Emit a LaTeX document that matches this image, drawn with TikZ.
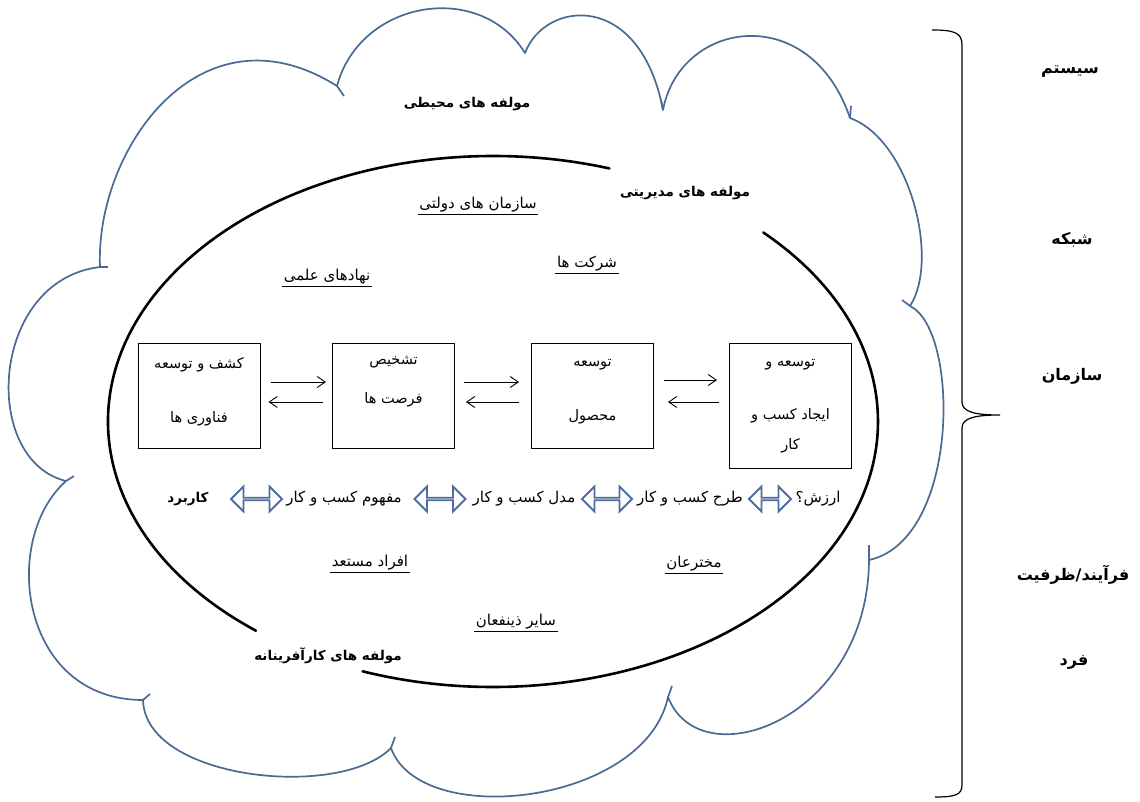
\documentclass[tikz,border=0pt]{standalone}
\usepackage{fontspec}
\newfontfamily\fafont[Script=Arabic]{DejaVu Sans}
\TeXXeTstate=1
\usetikzlibrary{shapes.arrows,arrows.meta,calc}
\definecolor{cloudblue}{HTML}{4A6A96}
\definecolor{dablue}{HTML}{4E6E9E}
\newcommand{\rtltext}[1]{\beginR#1\endR}
\begin{document}
\begin{tikzpicture}[x=1pt,y=-1pt,
  every node/.style={inner sep=0pt},
  cloudline/.style={draw=cloudblue,line width=1.7pt,line join=round},
  ellline/.style={line width=2.6pt,line cap=round},
  stage/.style={draw,line width=1pt,minimum width=122pt,minimum height=#1},
  stage/.default=105pt,
  btxt/.style={font=\fafont\fontsize{14.5}{17}\selectfont},
  rtxt/.style={font=\fafont\fontsize{15}{17}\selectfont},
  boldlab/.style={font=\fafont\bfseries\fontsize{13.5}{16}\selectfont},
  sidelab/.style={font=\fafont\bfseries\fontsize{16}{18}\selectfont},
  ulab/.style={font=\fafont\fontsize{15}{17}\selectfont,inner sep=1.5pt},
  uline/.style={line width=1.2pt},
  arr/.style={-{Straight Barb[length=8pt,width=11pt]},line width=0.9pt},
  dbl/.style={double arrow,draw=dablue,fill=white,line width=1.8pt,minimum height=#1,minimum width=25pt,double arrow head extend=8pt,inner sep=0pt},
  bracket/.style={line width=1.2pt}
]
\fill[white] (0,0) rectangle (1140,802);
\useasboundingbox (0,0) rectangle (1140,802);

% cloud
\draw[cloudline] (337,86) .. controls (360,0) and (480,-20) .. (525,53)
 .. controls (545,0) and (640,-10) .. (663,110)
 .. controls (680,20) and (810,0) .. (850,118)
 .. controls (910,140) and (940,260) .. (910,306)
 .. controls (960,330) and (960,540) .. (869,560)
 .. controls (868,720) and (700,780) .. (668,697)
 .. controls (645,805) and (420,830) .. (391,748)
 .. controls (340,800) and (145,780) .. (143,700)
 .. controls (20,700) and (0,540) .. (66,481)
 .. controls (-20,460) and (-10,280) .. (100,267)
 .. controls (95,150) and (200,0) .. (337,86) -- cycle;
% small tails at the cusps
\draw[cloudline] (337,86) -- (344,96);
\draw[cloudline] (100,267) -- (108,267);
\draw[cloudline] (66,481) -- (74,476);
\draw[cloudline] (143,700) -- (150,694);
\draw[cloudline] (391,748) -- (395,737);
\draw[cloudline] (668,697) -- (672,686);
\draw[cloudline] (869,560) -- (869,545);
\draw[cloudline] (910,306) -- (902,300);
\draw[cloudline] (850,118) -- (851,106);
\draw[cloudline] (663,110) -- (661,100);

% ellipse (two arcs)
\coordinate (ec) at (493,421.5);
\draw[ellline] ($(ec)+(-45.4:385 and 265.5)$) arc[start angle=-45.4,end angle=109.8,x radius=385,y radius=265.5];
\draw[ellline] ($(ec)+(128:385 and 265.5)$) arc[start angle=128,end angle=287.6,x radius=385,y radius=265.5];

% boxes
\node[stage] (b1) at (199,395.5) {};
\node[stage] (b2) at (393.5,395.5) {};
\node[stage] (b3) at (592.5,395.5) {};
\node[stage=125pt] (b4) at (790.5,405.5) {};

\node[btxt] (t1a) at (199,365) {\rtltext{کشف و توسعه}};
\node[btxt] (t1b) at (199,419) {\rtltext{فناوری ها}};
\node[btxt] (t2a) at (393.5,362) {\rtltext{تشخیص}};
\node[btxt] (t2b) at (393.5,400) {\rtltext{فرصت ها}};
\node[btxt] (t3a) at (592.5,365) {\rtltext{توسعه}};
\node[btxt] (t3b) at (592.5,417) {\rtltext{محصول}};
\node[btxt] (t4a) at (790.5,365) {\rtltext{توسعه و}};
\node[btxt] (t4b) at (790.5,416) {\rtltext{ایجاد کسب و}};
\node[btxt] (t4c) at (790.5,446) {\rtltext{کار}};

% arrows between boxes
\draw[arr,shorten <=10pt,shorten >=6pt] ($(b1.east)+(0,-13.5)$) -- ($(b2.west)+(0,-13.5)$);
\draw[arr,shorten <=9pt,shorten >=8pt] ($(b2.west)+(0,6.5)$) -- ($(b1.east)+(0,6.5)$);
\draw[arr,shorten <=9pt,shorten >=12pt] ($(b2.east)+(0,-13.5)$) -- ($(b3.west)+(0,-13.5)$);
\draw[arr,shorten <=12pt,shorten >=11pt] ($(b3.west)+(0,6.5)$) -- ($(b2.east)+(0,6.5)$);
\draw[arr,shorten <=10pt,shorten >=12pt] ($(b3.east)+(0,-15.5)$) -- ($(b4.west)+(0,-25.5)$);
\draw[arr,shorten <=10pt,shorten >=14pt] ($(b4.west)+(0,-3.5)$) -- ($(b3.east)+(0,6.5)$);

% row of concepts
\node[boldlab] (use) at (188,499) {\rtltext{کاربرد}};
\node[dbl=51pt] (da1) at (256.5,499) {};
\node[rtxt] (concept) at (344,499) {\rtltext{مفهوم کسب و کار}};
\node[dbl=51pt] (da2) at (440,499) {};
\node[rtxt] (model) at (524,499) {\rtltext{مدل کسب و کار}};
\node[dbl=50pt] (da3) at (607,499) {};
\node[rtxt] (plan) at (690,499) {\rtltext{طرح کسب و کار}};
\node[dbl=42pt] (da4) at (770,499) {};
\node[rtxt] (value) at (818,499) {\rtltext{ارزش؟}};

% labels
\node[boldlab] (env) at (467,104) {\rtltext{مولفه های محیطی}};
\node[boldlab] (mgmt) at (685,193) {\rtltext{مولفه های مدیریتی}};
\node[boldlab] (entre) at (328,656) {\rtltext{مولفه های کارآفرینانه}};

\node[ulab] (gov) at (478,205) {\rtltext{سازمان های دولتی}};
\node[ulab] (firms) at (587,264) {\rtltext{شرکت ها}};
\node[ulab] (sci) at (327,277) {\rtltext{نهادهای علمی}};
\node[ulab] (talent) at (370,563) {\rtltext{افراد مستعد}};
\node[ulab] (inv) at (694,564) {\rtltext{مخترعان}};
\node[ulab] (stake) at (516,622) {\rtltext{سایر ذینفعان}};
\foreach \n in {gov,firms,sci,talent,inv,stake}
  \draw[uline] (\n.south west) -- (\n.south east);

% right column
\draw[bracket] (932,30) .. controls (955,30) and (962,33) .. (962,45) -- (962,402)
  .. controls (962,412) and (975,415) .. (1000,415)
  .. controls (975,415) and (962,418) .. (962,428) -- (962,785)
  .. controls (962,795) and (955,797) .. (935,797);
\node[sidelab] (l1) at (1070,72) {\rtltext{سیستم}};
\node[sidelab] (l2) at (1072,240) {\rtltext{شبکه}};
\node[sidelab] (l3) at (1072,376) {\rtltext{سازمان}};
\node[sidelab] (l4) at (1073,575) {\rtltext{فرآیند/ظرفیت}};
\node[sidelab] (l5) at (1074,662) {\rtltext{فرد}};
\end{tikzpicture}
\end{document}
